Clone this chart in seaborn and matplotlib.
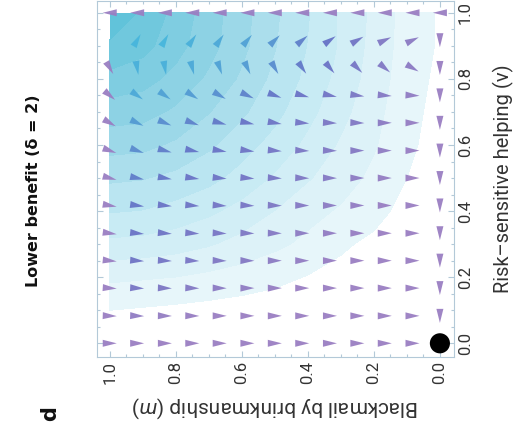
import numpy as np
import pandas as pd
import matplotlib
matplotlib.use("Agg")
import matplotlib.pyplot as plt
import seaborn as sns

# Data: rotated phase portrait (m on the horizontal axis, reversed; v on the vertical axis)
# arrow grid (columns left -> right, rows top -> bottom as they appear)
ARROW_M = [1.0, 0.917, 0.833, 0.75, 0.667, 0.583, 0.5, 0.417, 0.333, 0.25, 0.167, 0.083, 0.0]
ARROW_V = [1.0, 0.917, 0.833, 0.75, 0.667, 0.583, 0.5, 0.417, 0.333, 0.25, 0.167, 0.083, 0.0]

# heading of each arrow as seen in the figure (deg, 0 = right, 90 = up), nan = no arrow
ARROW_ANGLE = [
    [180, 180, 180, 180, 180, 180, 180, 180, 180, 180, 180, 180, 180],
    [np.nan, 60, 60, 55, 55, 50, 45, 40, 35, 30, 25, 25, -90],
    [-60, -80, -80, -75, -70, -65, -60, -55, -50, -45, -40, -30, -90],
    [-40, -35, -35, -33, -30, -25, -20, -15, -12, -8, -5, -3, -90],
    [-30, -25, -22, -20, -15, -12, -10, -5, -3, -2, 0, 0, -90],
    [-20, -20, -15, -12, -10, -8, -5, -3, -2, 0, 0, 0, -90],
    [-15, -12, -10, -8, -6, -5, -3, -2, -1, 0, 0, 0, -90],
    [-10, -8, -6, -5, -4, -3, -2, -1, 0, 0, 0, 0, -90],
    [-8, -6, -5, -4, -3, -2, -1, 0, 0, 0, 0, 0, -90],
    [-6, -4, -3, -3, -2, -1, 0, 0, 0, 0, 0, 0, -90],
    [-4, -3, -2, -2, -1, 0, 0, 0, 0, 0, 0, 0, -90],
    [-2, -2, -1, -1, 0, 0, 0, 0, 0, 0, 0, 0, -90],
    [0, 0, 0, 0, 0, 0, 0, 0, 0, 0, 0, 0, -90],
]

# arrow colour level (0 = purple, 1 = cyan)
ARROW_COLOR = [
    [0, 0, 0, 0, 0, 0, 0, 0, 0, 0, 0, 0, 0],
    [0, 1.0, 1.0, 0.95, 0.9, 0.85, 0.75, 0.6, 0.5, 0.38, 0.25, 0.15, 0],
    [0, 0.95, 0.95, 0.9, 0.85, 0.8, 0.7, 0.55, 0.45, 0.35, 0.25, 0.15, 0],
    [0, 0.9, 0.85, 0.8, 0.72, 0.62, 0.52, 0.45, 0.38, 0.3, 0.2, 0.1, 0],
    [0, 0.8, 0.7, 0.62, 0.55, 0.48, 0.42, 0.36, 0.3, 0.24, 0.15, 0.05, 0],
    [0, 0.68, 0.58, 0.52, 0.46, 0.42, 0.36, 0.3, 0.25, 0.2, 0.1, 0.03, 0],
    [0, 0.58, 0.52, 0.46, 0.42, 0.37, 0.32, 0.26, 0.2, 0.14, 0.06, 0, 0],
    [0, 0.52, 0.46, 0.42, 0.37, 0.32, 0.27, 0.2, 0.14, 0.08, 0.02, 0, 0],
    [0, 0.46, 0.42, 0.37, 0.32, 0.27, 0.2, 0.14, 0.08, 0.03, 0, 0, 0],
    [0, 0.42, 0.37, 0.32, 0.26, 0.2, 0.14, 0.08, 0.03, 0, 0, 0, 0],
    [0, 0.34, 0.28, 0.22, 0.16, 0.1, 0.05, 0.01, 0, 0, 0, 0, 0],
    [0, 0.1, 0.06, 0.03, 0, 0, 0, 0, 0, 0, 0, 0, 0],
    [0, 0, 0, 0, 0, 0, 0, 0, 0, 0, 0, 0, 0],
]

# background shading (rows v = 0.0 .. 1.0, columns m = 0.0 .. 1.0), <0 = white
SHADE_M = [0.0, 0.1, 0.2, 0.3, 0.4, 0.5, 0.6, 0.7, 0.8, 0.9, 1.0]
SHADE_V = [0.0, 0.1, 0.2, 0.3, 0.4, 0.5, 0.6, 0.7, 0.8, 0.9, 1.0]
SHADE = [
    [-0.20, -0.18, -0.16, -0.14, -0.12, -0.10, -0.09, -0.08, -0.07, -0.06, -0.05],
    [-0.16, -0.12, -0.10, -0.08, -0.06, -0.05, -0.04, -0.03, -0.02, -0.01, 0.00],
    [-0.14, -0.10, -0.07, -0.04, -0.005, 0.025, 0.05, 0.07, 0.09, 0.10, 0.11],
    [-0.12, -0.08, -0.03, 0.02, 0.07, 0.11, 0.15, 0.19, 0.22, 0.24, 0.25],
    [-0.08, -0.045, 0.045, 0.08, 0.12, 0.18, 0.24, 0.29, 0.33, 0.36, 0.37],
    [-0.06, 0.00, 0.07, 0.13, 0.19, 0.26, 0.33, 0.39, 0.43, 0.46, 0.47],
    [-0.04, 0.02, 0.10, 0.17, 0.25, 0.33, 0.40, 0.47, 0.53, 0.57, 0.58],
    [-0.03, 0.03, 0.12, 0.21, 0.30, 0.39, 0.47, 0.55, 0.62, 0.67, 0.68],
    [-0.02, 0.04, 0.14, 0.24, 0.34, 0.43, 0.53, 0.62, 0.70, 0.76, 0.79],
    [-0.01, 0.05, 0.15, 0.26, 0.36, 0.46, 0.57, 0.67, 0.76, 0.85, 0.89],
    [-0.01, 0.05, 0.16, 0.26, 0.37, 0.47, 0.58, 0.68, 0.79, 0.89, 1.00],
]

STABLE_M = [0.0]
STABLE_V = [0.0]
TICKS = [0.0, 0.2, 0.4, 0.6, 0.8, 1.0]

# style
sns.set_style("white")
plt.rcParams["font.family"] = ["Roboto", "DejaVu Sans"]
plt.rcParams["mathtext.fontset"] = "custom"
plt.rcParams["mathtext.it"] = "Roboto:italic"
plt.rcParams["mathtext.rm"] = "Roboto"

FRAME = "#b3c9d8"
TXT = "#333333"

fig = plt.figure(figsize=(5.18, 4.34), dpi=100)
ax = fig.add_axes([0.187, 0.177, 0.689, 0.821])

# shaded region
shade_cmap = sns.blend_palette(["#ecf8fb", "#c6eaf4", "#90d3e5", "#5ac1d8"], as_cmap=True)
ax.contourf(SHADE_M, SHADE_V, np.array(SHADE), levels=np.linspace(0, 1.0, 12),
            cmap=shade_cmap, extend="max", zorder=1)

# arrows
mm, vv = np.meshgrid(ARROW_M, ARROW_V)
theta = np.deg2rad(np.array(ARROW_ANGLE, dtype=float))
U = np.ma.masked_invalid(-np.cos(theta))
V = np.ma.masked_invalid(np.sin(theta))
arrow_cmap = sns.blend_palette(["#9a7ec2", "#6672c6", "#47b6dc"], as_cmap=True)
ax.quiver(mm, vv, U, V, np.array(ARROW_COLOR), cmap=arrow_cmap, clim=(0, 1),
          pivot="middle", angles="xy", units="inches", scale_units="inches",
          scale=1 / 0.14, width=0.01, headlength=14, headaxislength=14,
          headwidth=7, minshaft=1, alpha=0.95, zorder=3)

# stable point
dot = pd.DataFrame({"m": STABLE_M, "v": STABLE_V})
sns.scatterplot(data=dot, x="m", y="v", s=210, color="black", edgecolor="none",
                ax=ax, zorder=5, clip_on=False, legend=False)

ax.set_xlim(1.039, -0.042)
ax.set_ylim(-0.042, 1.036)

ax.set_xticks(TICKS)
ax.set_yticks(TICKS)
ax.set_xticklabels([f"{t:.1f}" for t in TICKS], rotation=90)
ax.set_yticklabels([f"{t:.1f}" for t in TICKS], rotation=90, va="center")
ax.set_xticks(np.arange(0, 1.0001, 0.05), minor=True)
ax.set_yticks(np.arange(0, 1.0001, 0.05), minor=True)
ax.tick_params(which="both", direction="in", color=FRAME, width=0.8,
               top=True, bottom=True, left=True, right=True,
               labelleft=False, labelright=True, labelbottom=True, labeltop=False)
ax.tick_params(which="major", length=4.5, labelsize=12, labelcolor=TXT, pad=3)
ax.tick_params(which="minor", length=2.5)
for s in ax.spines.values():
    s.set_color(FRAME)
    s.set_linewidth(0.8)

ax.set_xlabel("Blackmail by brinkmanship ($m$)", fontsize=15, color=TXT,
              rotation=180, va="center", ha="center")
ax.xaxis.set_label_coords(0.5, -0.14)
ax.yaxis.set_label_position("right")
ax.set_ylabel("Risk\u2013sensitive helping (\u03bd)", fontsize=14.5, color=TXT,
              rotation=90, va="center", ha="center")
ax.yaxis.set_label_coords(1.14, 0.5)

fig.text(0.064, 0.56, "Lower benefit (\u03b4 = 2)", rotation=90, ha="center",
         va="center", fontsize=11.5, fontweight="bold", color="#111111",
         family="DejaVu Sans")
fig.text(0.097, 0.048, "d", rotation=90, ha="center", va="center",
         fontsize=15, fontweight="bold", color="#111111",
         family="DejaVu Sans")

fig.savefig("out.png", dpi=100)
